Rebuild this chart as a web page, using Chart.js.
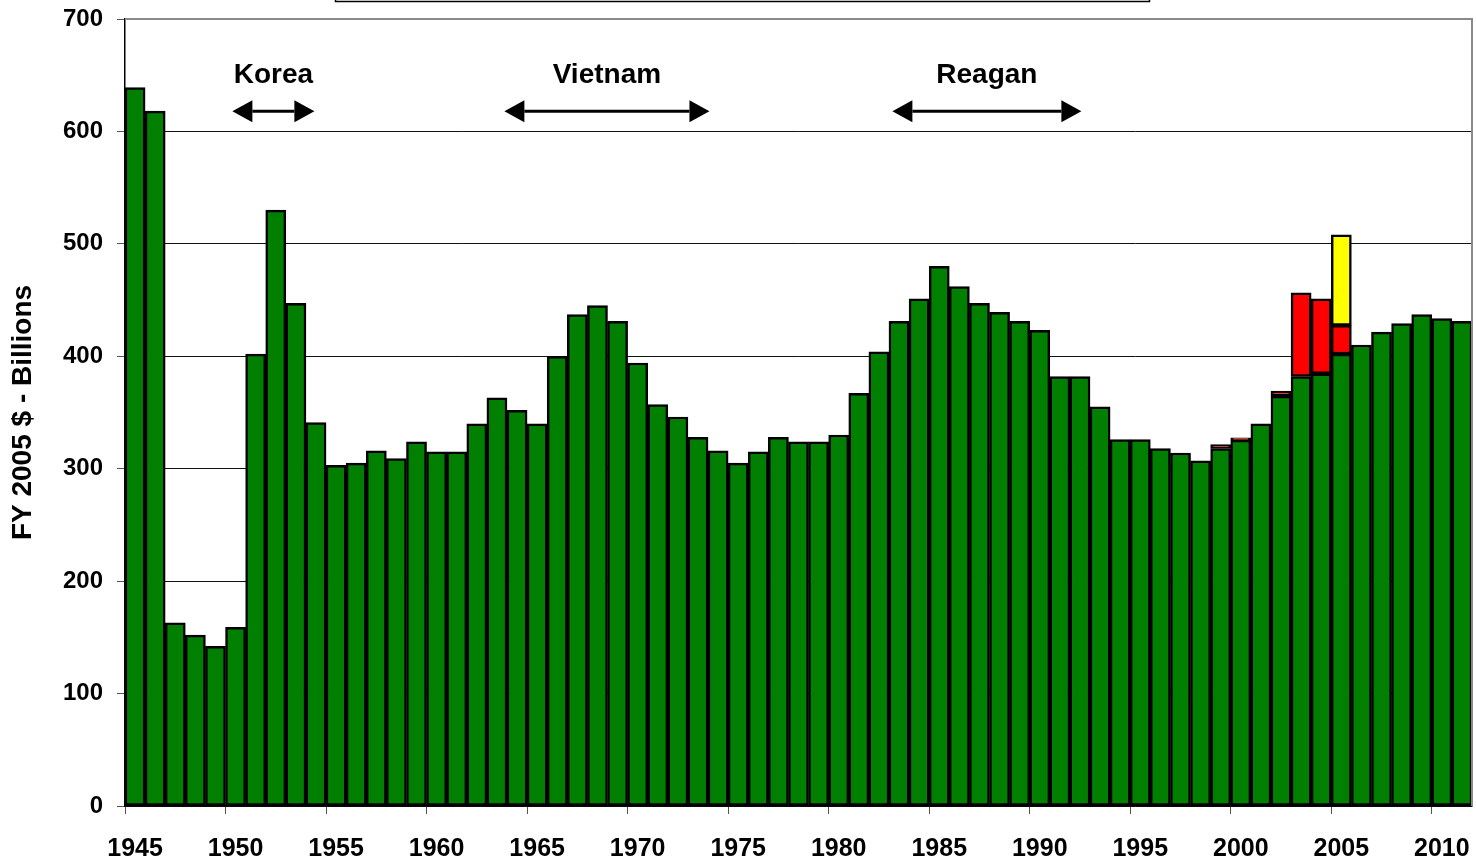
<!DOCTYPE html>
<html>
<head>
<meta charset="utf-8">
<script src="https://cdn.jsdelivr.net/npm/chart.js@4/dist/chart.umd.min.js"></script>
<style>
  html, body { margin: 0; padding: 0; background: #fff; }
  #wrap { width: 1476px; height: 865px; }
</style>
</head>
<body>
<div id="wrap"><canvas id="chart"></canvas></div>
<script>
const years = [
  1945, 1946, 1947, 1948, 1949, 1950, 1951, 1952, 1953, 1954,
  1955, 1956, 1957, 1958, 1959, 1960, 1961, 1962, 1963, 1964,
  1965, 1966, 1967, 1968, 1969, 1970, 1971, 1972, 1973, 1974,
  1975, 1976, 1977, 1978, 1979, 1980, 1981, 1982, 1983, 1984,
  1985, 1986, 1987, 1988, 1989, 1990, 1991, 1992, 1993, 1994,
  1995, 1996, 1997, 1998, 1999, 2000, 2001, 2002, 2003, 2004,
  2005, 2006, 2007, 2008, 2009, 2010, 2011,
];

// base budget, FY 2005 $ billions
const baseBudget = [
  639, 618, 163, 152, 142, 159, 402, 530, 447, 341,
  303, 305, 316, 309, 324, 315, 315, 340, 363, 352,
  340, 400, 437, 445, 431, 394, 357, 346, 328, 316,
  305, 315, 328, 324, 324, 330, 367, 404, 431, 451,
  480, 462, 447, 439, 431, 423, 382, 382, 355, 326,
  326, 318, 314, 307, 318, 325.5, 340, 364.5, 382, 384.5,
  402, 410, 421.5, 429, 437, 433.5, 431,
];

// supplementals (red) sit on top of the base
const supplementals = {
  1999: 3.5, 2000: 2, 2002: 4.5, 2003: 74.5, 2004: 66.5, 2005: 25.5,
};

// pending request (yellow) on top of that
const pending = { 2005: 80.5 };

const yTicks = [0, 100, 200, 300, 400, 500, 600, 700];

const wars = ['Korea', 'Vietnam', 'Reagan'];
const warStart = [1949.84, 1963.37, 1982.67];
const warEnd = [1953.92, 1973.57, 1992.07];

const FONT = '"Liberation Sans", Arial, sans-serif';

const redData = years.map((yr) => supplementals[yr] ?? null);
const yellowData = years.map((yr) => pending[yr] ?? null);

const annotate = {
  id: 'annotate',
  afterDatasetsDraw(chart) {
    const { ctx, chartArea } = chart;
    const xs = chart.scales.x;
    const ys = chart.scales.y;
    ctx.save();

    // gray frame on top/right of the plot
    ctx.strokeStyle = '#8a8a8a';
    ctx.lineWidth = 2;
    ctx.beginPath();
    ctx.moveTo(chartArea.left, chartArea.top);
    ctx.lineTo(chartArea.right, chartArea.top);
    ctx.lineTo(chartArea.right, chartArea.bottom);
    ctx.stroke();

    // clipped title box at the very top
    ctx.strokeStyle = '#000';
    ctx.lineWidth = 1.5;
    ctx.strokeRect(335.5, -10, 814, 11.5);

    const arrowY = ys.getPixelForValue(618);
    const textY = ys.getPixelForValue(650);
    wars.forEach((name, i) => {
      const x1 = xs.getPixelForValue(warStart[i] - years[0]);
      const x2 = xs.getPixelForValue(warEnd[i] - years[0]);
      const head = 20;
      const half = 11;
      ctx.strokeStyle = '#000';
      ctx.fillStyle = '#000';
      ctx.lineWidth = 3;
      ctx.beginPath();
      ctx.moveTo(x1 + head, arrowY);
      ctx.lineTo(x2 - head, arrowY);
      ctx.stroke();
      ctx.beginPath();
      ctx.moveTo(x1, arrowY);
      ctx.lineTo(x1 + head, arrowY - half);
      ctx.lineTo(x1 + head, arrowY + half);
      ctx.closePath();
      ctx.fill();
      ctx.beginPath();
      ctx.moveTo(x2, arrowY);
      ctx.lineTo(x2 - head, arrowY - half);
      ctx.lineTo(x2 - head, arrowY + half);
      ctx.closePath();
      ctx.fill();

      ctx.font = `bold 28px ${FONT}`;
      ctx.textAlign = 'center';
      ctx.textBaseline = 'middle';
      ctx.fillText(name, (x1 + x2) / 2, textY);
    });
    ctx.restore();
  },
};

const barStyle = {
  borderColor: '#000',
  borderWidth: 2.5,
  borderSkipped: false,
  barPercentage: 1,
  categoryPercentage: 1,
};

new Chart(document.getElementById('chart'), {
  type: 'bar',
  data: {
    labels: years,
    datasets: [
      { label: 'Base', data: baseBudget, backgroundColor: '#007f00', ...barStyle },
      { label: 'Supplemental', data: redData, backgroundColor: '#ff0000', ...barStyle },
      { label: 'Request', data: yellowData, backgroundColor: '#ffff00', ...barStyle },
    ],
  },
  options: {
    responsive: true,
    maintainAspectRatio: false,
    animation: false,
    layout: { padding: { top: 19, right: 4, left: 0, bottom: 0 } },
    plugins: {
      legend: { display: false },
      tooltip: { enabled: false },
    },
    scales: {
      x: {
        stacked: true,
        offset: true,
        border: { color: '#000', width: 1.5 },
        grid: {
          offset: true,
          drawOnChartArea: false,
          tickLength: 8,
          tickColor: (c) => (c.index % 5 === 0 ? '#555' : 'rgba(0,0,0,0)'),
        },
        ticks: {
          autoSkip: false,
          maxRotation: 0,
          padding: 20,
          color: '#000',
          font: { family: FONT, size: 25, weight: 'bold' },
          callback: (v, i) => (years[i] % 5 === 0 ? String(years[i]) : ''),
        },
        afterFit: (s) => {
          s.height = 59;
          s.paddingLeft = 0;
          s.paddingRight = 0;
        },
      },
      y: {
        stacked: true,
        min: 0,
        max: 700,
        border: { color: '#000', width: 1.5 },
        grid: {
          color: (c) => (c.tick && c.tick.value === 700 ? '#8a8a8a' : '#111'),
          tickColor: '#555',
          lineWidth: 1,
          tickLength: 8,
        },
        afterBuildTicks: (s) => { s.ticks = yTicks.map((v) => ({ value: v })); },
        ticks: {
          padding: 14,
          color: '#000',
          font: { family: FONT, size: 24, weight: 'bold' },
        },
        title: {
          display: true,
          text: 'FY 2005 $ - Billions',
          color: '#000',
          font: { family: FONT, size: 28, weight: 'bold' },
          padding: { top: 6, bottom: 0 },
        },
        afterFit: (s) => {
          s.width = 125;
          s.paddingTop = 0;
          s.paddingBottom = 0;
        },
      },
    },
  },
  plugins: [annotate],
});
</script>
</body>
</html>
